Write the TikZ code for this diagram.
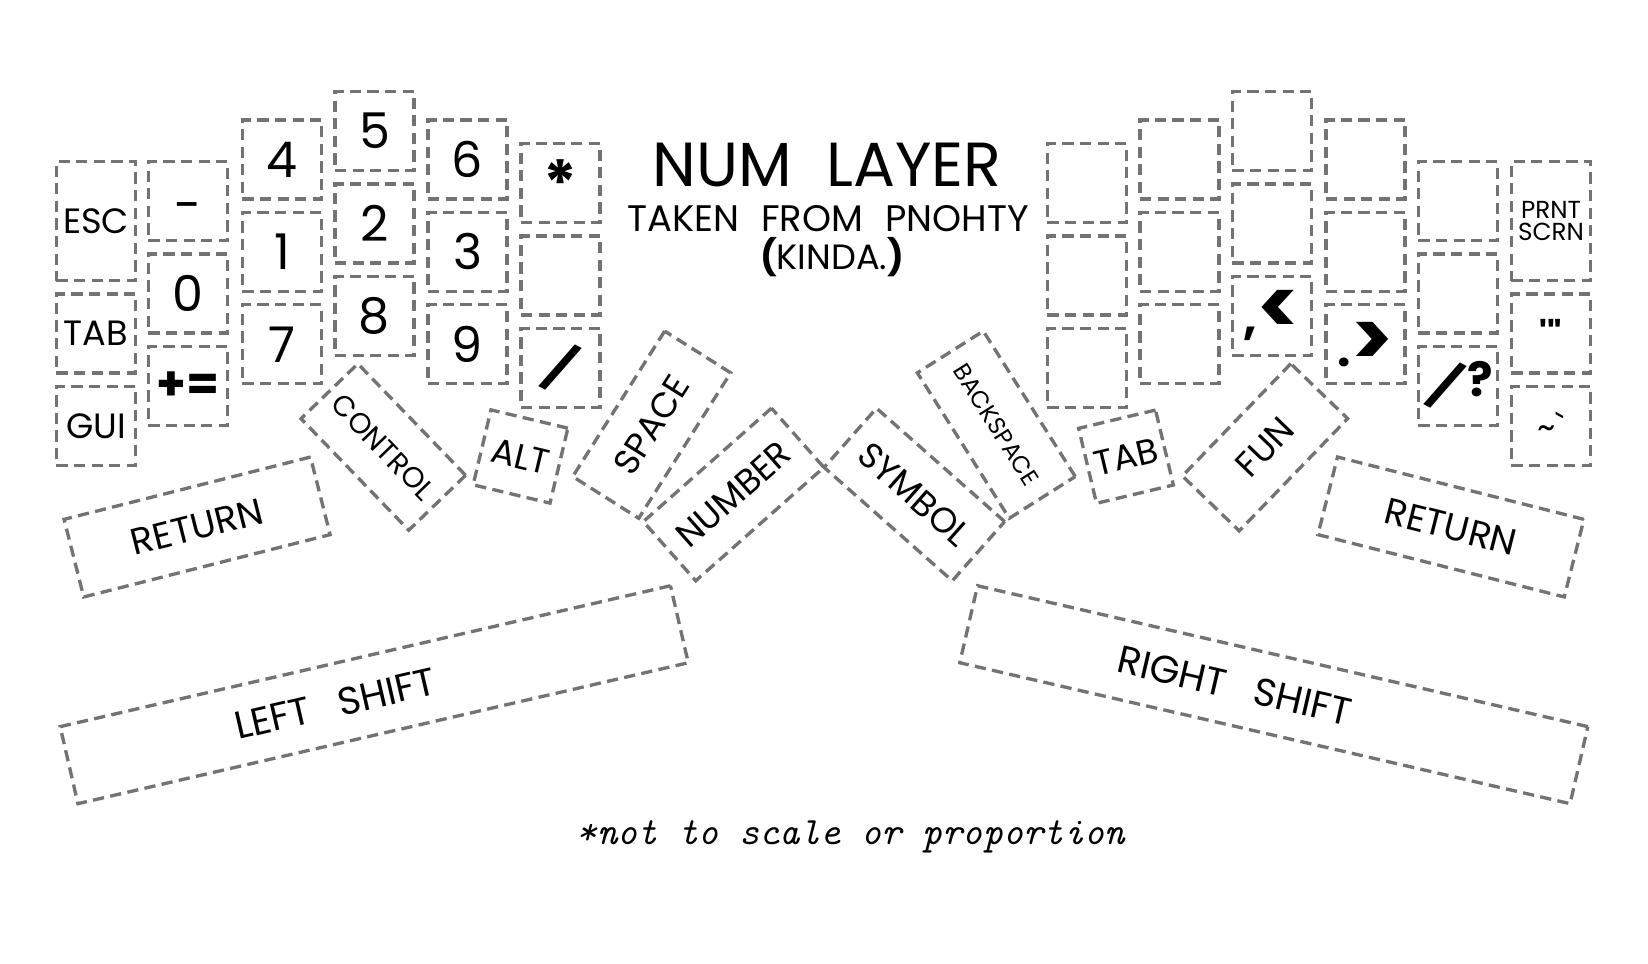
\documentclass[tikz,border=0pt]{standalone}
\usepackage{fontspec}
\setmainfont{Poppins}
\usepackage{tikz}
\usetikzlibrary{positioning}
\definecolor{cKey}{RGB}{115,115,115}
\tikzset{
	key/.style     ={rectangle, draw=cKey, line width=0.95pt, dash pattern=on 3.2pt off 1.8pt, minimum width=0.79cm, minimum height=0.79cm, inner sep=0pt, align=center, font=\fontsize{10}{12}\selectfont},
	numkey/.style  ={key, font=\fontsize{14}{16}\selectfont},
	symkey/.style  ={key, font=\fontsize{13.5}{15}\selectfont\bfseries},
	tallkey/.style ={key, minimum height=1.19cm},
	% thumb cluster
	thumb/.style   ={key, minimum width=1.72cm, minimum height=0.78cm},
	longkey/.style ={key, minimum width=2.54cm, minimum height=0.8cm, font=\fontsize{10.5}{12}\selectfont},
	shiftkey/.style={key, minimum width=6.26cm, font=\fontsize{11}{13}\selectfont},
}
\newcommand{\flatslash}{\rotatebox{-28}{/}}
\newcommand{\bigsym}[1]{{\fontsize{22}{22}\selectfont#1}}

\begin{document}
\begin{tikzpicture}[x=0.01cm, y=-0.01cm, node distance=0.1cm]
	\useasboundingbox (0,0) rectangle (1648,964);
	% heading
	\node[font=\fontsize{17.7}{20}\selectfont] (title) at (827,165) {NUM\hspace{0.55em}LAYER};
	\node[font=\fontsize{10.5}{12}\selectfont] (subtitle) at (828,219) {TAKEN\hspace{0.6em}FROM\hspace{0.6em}PNOHTY};
	\node[font=\fontsize{10}{12}\selectfont] (kinda) at (832,257) {\textbf{(}KINDA.\textbf{)}};
	% left hand
	\node[tallkey] (esc) at (96,221) {ESC};
	\node[key, below=of esc] (tabl) {TAB};
	\node[key, below=of tabl] (gui) {GUI};
	\node[numkey] (minus) at (188,201) {\vphantom{0}\raisebox{-0.15em}{-}};
	\node[numkey, below=of minus] (zero) {0};
	\node[symkey, below=of zero] (pluseq) {+=};
	\node[numkey] (four) at (282,159.5) {4};
	\node[numkey, below=of four] (one) {1};
	\node[numkey, below=of one] (seven) {7};
	\node[numkey] (five) at (374.5,131) {5};
	\node[numkey, below=of five] (two) {2};
	\node[numkey, below=of two] (eight) {8};
	\node[numkey] (six) at (467.5,159.5) {6};
	\node[numkey, below=of six] (three) {3};
	\node[numkey, below=of three] (nine) {9};
	\node[symkey, font=\fontsize{18}{18}\selectfont\bfseries] (star) at (560.5,183) {*};
	\node[key, below=of star] (lblank) {};
	\node[symkey, below=of lblank] (slash) {\flatslash};
	% right hand
	\node[key] (ra1) at (1087,183) {};
	\node[key, below=of ra1] (ra2) {};
	\node[key, below=of ra2] (ra3) {};
	\node[key] (rb1) at (1179.5,159.5) {};
	\node[key, below=of rb1] (rb2) {};
	\node[key, below=of rb2] (rb3) {};
	\node[key] (rc1) at (1272,131) {};
	\node[key, below=of rc1] (rc2) {};
	\node[symkey, below=of rc2] (comma) {,\bigsym{<}};
	\node[key] (rd1) at (1365.5,159.5) {};
	\node[key, below=of rd1] (rd2) {};
	\node[symkey, below=of rd2] (period) {.\bigsym{>}};
	\node[key] (re1) at (1458,201) {};
	\node[key, below=of re1] (re2) {};
	\node[symkey, below=of re2] (question) {\flatslash?};
	\node[tallkey, font=\fontsize{7}{6}\selectfont] (prnt) at (1551,221) {PRNT\\SCRN};
	\node[key, below=of prnt, font=\fontsize{10}{12}\selectfont\bfseries] (quote) {\textquotesingle\textquotedbl};
	\node[key, below=of quote] (tilde) {\textasciitilde\textasciigrave};
	% left thumb cluster
	\node[key, minimum width=1.55cm, rotate=-46, font=\fontsize{8.2}{10}\selectfont] (ctrl) at (383.3,447) {CONTROL};
	\node[key, minimum height=0.77cm, rotate=-13.4] (alt) at (520.5,456.5) {ALT};
	\node[thumb, rotate=57.7] (space) at (651.7,424.7) {SPACE};
	\node[thumb, minimum width=1.71cm, minimum height=0.79cm, rotate=41.5] (number) at (733.6,494.5) {NUMBER};
	\node[longkey, rotate=14.2] (retl) at (197.1,527) {RETURN};
	\node[shiftkey, rotate=13] (lshift) at (374.2,694.7) {LEFT\hspace{0.75em}SHIFT\hspace*{0.8cm}};
	% right thumb cluster
	\node[thumb, minimum width=1.71cm, minimum height=0.79cm, rotate=-41.5] (symbol) at (914.4,494.5) {SYMBOL};
	\node[thumb, rotate=-57.7, font=\fontsize{6.8}{8}\selectfont] (bksp) at (996.3,424.7) {BACKSPACE};
	\node[key, minimum height=0.77cm, rotate=13.4] (tabr) at (1126,456.7) {TAB};
	\node[key, minimum width=1.56cm, rotate=46] (fun) at (1265,447.3) {FUN};
	\node[longkey, rotate=-14.2] (retr) at (1450.9,527) {RETURN};
	\node[shiftkey, rotate=-13] (rshift) at (1273.8,694.7) {RIGHT\hspace{0.75em}SHIFT\hspace*{0.8cm}};
	% footnote
	\node[font=\ttfamily\itshape\fontsize{11}{13}\selectfont] (note) at (851,837) {*not to scale or proportion};
\end{tikzpicture}
\end{document}
